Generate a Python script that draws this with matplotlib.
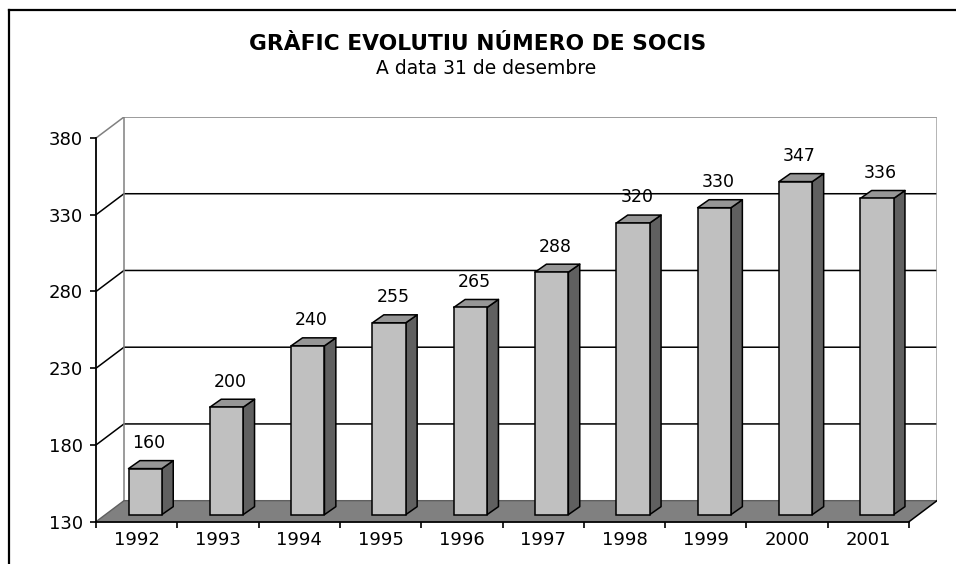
import numpy as np
import matplotlib.pyplot as plt
from matplotlib.patches import Polygon, Rectangle

# Data
years = ['1992', '1993', '1994', '1995', '1996', '1997', '1998', '1999', '2000', '2001']
socis = [160, 200, 240, 255, 265, 288, 320, 330, 347, 336]
yticks = [130, 180, 230, 280, 330, 380]

ymin, ymax = 130, 380

# 3D look: offsets of the back wall and of the bars (data units)
DX, DY = 0.344, 13.7        # back wall offset
SX, SY = 0.105, 4.6         # bar front face shift into depth
BX, BY = 0.14, 5.2          # bar depth
W = 0.41                    # bar width

W_PX, H_PX = 956, 564
fig = plt.figure(figsize=(W_PX / 100, H_PX / 100), dpi=100)

# plot area in pixels: front-left x=96, back-right x=937, bottom y=521.7, top-back y=117
left, right = 96 / W_PX, 937 / W_PX
bottom, top = 1 - 521.7 / H_PX, 1 - 117 / H_PX
ax = fig.add_axes([left, bottom, right - left, top - bottom])
n = len(years)
ax.set_xlim(0, n + DX)
ax.set_ylim(ymin, ymax + DY)
ax.patch.set_visible(False)

# back wall
ax.add_patch(Rectangle((DX, ymin + DY), n, ymax - ymin, facecolor='white',
                       edgecolor='none', zorder=0))
# gridlines on side + back wall
for v in yticks[1:]:
    c = '#808080' if v == ymax else 'black'
    ax.plot([0, DX, n + DX], [v, v + DY, v + DY], color=c, lw=1.1, zorder=1,
            solid_capstyle='butt')
ax.plot([DX, DX], [ymin + DY, ymax + DY], color='#808080', lw=1.1, zorder=1)
ax.plot([n + DX, n + DX], [ymin + DY, ymax + DY], color='#a0a0a0', lw=1.1, zorder=1)

# floor
floor = Polygon([(0, ymin), (n, ymin), (n + DX, ymin + DY), (DX, ymin + DY)],
                closed=True, facecolor='#808080', edgecolor='none', zorder=2)
ax.add_patch(floor)
ax.plot([0, DX, n + DX], [ymin, ymin + DY, ymin + DY], color='#606060', lw=1.0, zorder=2)
ax.plot([n, n + DX], [ymin, ymin + DY], color='black', lw=1.1, zorder=2)

# bars
for i, v in enumerate(socis):
    x0 = i + 0.5 - W / 2 + SX
    x1 = x0 + W
    y0 = ymin + SY
    y1 = v + SY
    front = Rectangle((x0, y0), W, y1 - y0, facecolor='#c0c0c0',
                      edgecolor='black', lw=1.1, zorder=3)
    side = Polygon([(x1, y0), (x1 + BX, y0 + BY), (x1 + BX, y1 + BY), (x1, y1)],
                   closed=True, facecolor='#606060', edgecolor='black', lw=1.1,
                   zorder=3, joinstyle='round')
    topf = Polygon([(x0, y1), (x1, y1), (x1 + BX, y1 + BY), (x0 + BX, y1 + BY)],
                   closed=True, facecolor='#969696', edgecolor='black', lw=1.1,
                   zorder=3, joinstyle='round')
    ax.add_patch(side)
    ax.add_patch(topf)
    ax.add_patch(front)
    ax.text(x0 + W / 2 + BX / 3, y1 + BY + 11.5, str(v), ha='center', va='center',
            fontsize=12.5, color='black', zorder=4)

# axes
for s in ['top', 'right']:
    ax.spines[s].set_visible(False)
ax.spines['left'].set_bounds(ymin, ymax)
ax.spines['bottom'].set_bounds(0, n)
ax.spines['left'].set_linewidth(1.3)
ax.spines['bottom'].set_linewidth(1.3)
ax.spines['left'].set_zorder(5)
ax.spines['bottom'].set_zorder(5)

ax.set_yticks(yticks)
ax.set_yticklabels([str(t) for t in yticks])
ax.tick_params(axis='y', direction='out', length=4.3, width=1.2, pad=5,
               labelsize=13)
ax.set_xticks(np.arange(0, n + 1))
ax.set_xticklabels([])
ax.set_xticks(np.arange(n) + 0.5, minor=True)
ax.set_xticklabels(years, minor=True)
ax.tick_params(axis='x', which='major', direction='out', length=4.3, width=1.2)
ax.tick_params(axis='x', which='minor', length=0, pad=7, labelsize=13)

# titles
fig.text(478 / W_PX, 1 - 44.5 / H_PX, 'GRÀFIC EVOLUTIU NÚMERO DE SOCIS',
         ha='center', va='center', fontsize=15.7, fontweight='bold')
fig.text(486 / W_PX, 1 - 69 / H_PX, 'A data 31 de desembre',
         ha='center', va='center', fontsize=13.5)

# outer frame (top and left only)
fig.add_artist(plt.Line2D([9 / W_PX, 9 / W_PX], [0, 1 - 9.5 / H_PX], color='black', lw=1.6))
fig.add_artist(plt.Line2D([9 / W_PX, 1], [1 - 9.5 / H_PX, 1 - 9.5 / H_PX], color='black', lw=1.6))

fig.savefig('out.png', dpi=100)
